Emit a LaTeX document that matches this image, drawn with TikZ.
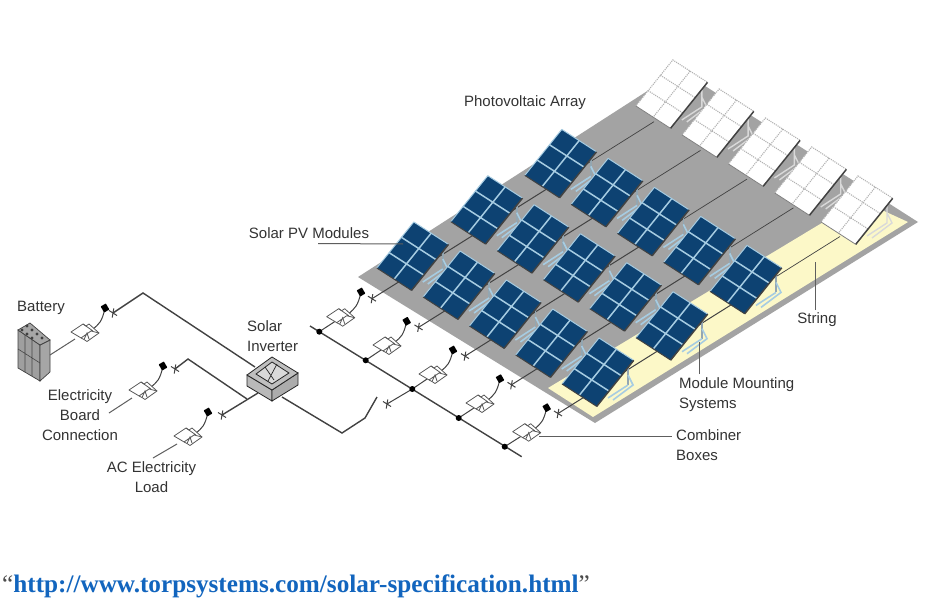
\documentclass[tikz,border=0pt]{standalone}
\usepackage{fontspec}
\setmainfont{Liberation Sans}
\newfontfamily\footfont{Liberation Serif}
\definecolor{ground}{HTML}{A3A3A3}
\definecolor{yard}{HTML}{FCF8C8}
\definecolor{panelblue}{HTML}{0D4272}
\definecolor{gridblue}{HTML}{A6CCE2}
\definecolor{wire}{HTML}{424242}
\definecolor{labelgray}{HTML}{333333}
\definecolor{linkblue}{HTML}{1265BE}
\tikzset{
  wireline/.style={draw=wire,line width=1.4pt},
  thinwire/.style={draw=wire,line width=1pt},
  farwire/.style={draw=wire,line width=.7pt},
  leader/.style={draw=wire!85,line width=1pt},
  lab/.style={text=labelgray,font=\fontsize{15}{20}\selectfont,inner sep=0pt,align=center},
  labl/.style={lab,align=left,anchor=west},
}
\newcommand{\bluepanel}[2]{%
 \begin{scope}[shift={(#1,#2)}]
  \draw[gray!50!gridblue,line width=1.6pt] (29,30)--(29,47);
  \draw[gridblue,line width=1.6pt] (29,47)--(9,60) (29,37)--(34,47)--(14,62);
  \fill[panelblue] (0,0)--(34.7,22.4)--(-2.3,68.4)--(-37,46)--cycle;
  \draw[gridblue,line width=1.5pt] (17.35,11.2)--(-19.65,57.2)
     (-12.33,15.33)--(22.37,37.73) (-24.67,30.67)--(10.03,53.07);
  \draw[gridblue,line width=1pt,line join=round] (-37,46)--(0,0)--(34.7,22.4);
  \draw[wire,line width=1.5pt] (34.7,22.4)--(-2.3,68.4);
  \draw[wire,line width=1pt] (-2.3,68.4)--(-37,46);
 \end{scope}}
\newcommand{\whitepanel}[2]{%
 \begin{scope}[shift={(#1,#2)}]
  \draw[gray!30,line width=1.4pt] (29,30)--(29,47)--(9,60) (29,37)--(34,47)--(14,62);
  \fill[white] (0,0)--(34.7,22.4)--(-2.3,68.4)--(-37,46)--cycle;
  \draw[gray!60,line width=1.1pt,densely dotted] (17.35,11.2)--(-19.65,57.2)
     (-12.33,15.33)--(22.37,37.73) (-24.67,30.67)--(10.03,53.07)
     (-37,46)--(0,0)--(34.7,22.4);
  \draw[wire,line width=1.5pt] (34.7,22.4)--(-2.3,68.4);
  \draw[gray,line width=.8pt] (-2.3,68.4)--(-37,46);
 \end{scope}}
\newcommand{\cbox}[2]{%
 \begin{scope}[shift={(#1,#2)}]
  \filldraw[fill=white,draw=gray!70!black,line width=.8pt,line join=round]
    (-14,-1)--(-2,-9)--(1,-7)--(4,-9)--(14,0)--(2,8.5)--(-1,6.5)--(-3,5.5)--cycle;
  \draw[gray!70!black,line width=.8pt] (-4,5)--(6,-2)--(14,0) (-2,-9)--(8,-2) (-1,6.5)--(2,0)--(4,6);
 \end{scope}}
\newcommand{\xmark}[2]{%
 \draw[wire,line width=1pt] (#1-4,#2-2.5)--(#1+4,#2+2.5) (#1+.8,#2-4.5)--(#1-.8,#2+4.5);}
\newcommand{\terminal}[2]{%
 \fill[black,rotate around={30:(#1,#2)},rounded corners=.5pt] (#1-3,#2-3.5)rectangle(#1+3,#2+3.5);}
\begin{document}
\begin{tikzpicture}[x=1pt,y=-1pt]
\useasboundingbox (0,0) rectangle (926,607);
\fill[white] (0,0) rectangle (926,607);
\fill[ground] (358,277)--(680,70)--(918,222)--(595,423)--cycle;
\fill[yard] (548,388)--(860,200)--(908,222)--(593,417)--cycle;
\foreach \s in {4,3,2,1,0}{
  \pgfmathsetmacro{\bx}{599-46.3*\s}
  \pgfmathsetmacro{\by}{338-29*\s}
  \pgfmathsetmacro{\mx}{558-46.5*\s}
  \pgfmathsetmacro{\my}{413.5-28.7*\s}
  \pgfmathsetmacro{\ex}{\mx+282}
  \pgfmathsetmacro{\ey}{\my-177}
  \pgfmathsetmacro{\kx}{\mx+188}
  \pgfmathsetmacro{\ky}{\my-118}
  \coordinate (plus\s) at (\mx,\my);
  \coordinate (knee\s) at (\kx,\ky);
  \coordinate (end\s) at (\ex,\ey);
  \draw[thinwire] (plus\s)--(knee\s);
  \draw[farwire] (knee\s)--(end\s);
  \pgfmathsetmacro{\wx}{\bx+3.5*74}
  \pgfmathsetmacro{\wy}{\by-3.5*46.3}
  \whitepanel{\wx}{\wy}
  \foreach \i in {2,1,0}{
    \pgfmathsetmacro{\px}{\bx+74*\i}
    \pgfmathsetmacro{\py}{\by-46.3*\i}
    \bluepanel{\px}{\py}
  }
  \xmark{\mx}{\my}
}
\coordinate (busA) at (310,326);
\coordinate (busB) at (521.7,456.7);
\draw[wireline] (busA)--(busB);
\foreach \n/\bx/\by/\tx/\ty/\jx/\jy in {
  0/526.7/432.7/546.7/407.7/504.7/446.7,
  1/480/404/500/378.7/458.7/418,
  3/387/346/406.7/321.3/365.7/360.3,
  4/340.7/317.7/361/292/319.3/331.7}{
  \coordinate (box\n) at (\bx,\by);
  \coordinate (term\n) at (\tx,\ty);
  \coordinate (junc\n) at (\jx,\jy);
  \draw[thinwire] (junc\n)--(box\n);
  \draw[thinwire] (term\n) .. controls (\tx-3,\ty+14) and (\tx-6,\ty+16) .. (\bx+8,\by-4);
  \cbox{\bx}{\by}
  \terminal{\tx}{\ty}
  \fill[black] (\jx,\jy) circle (3);
}
\coordinate (box2) at (433,375);
\coordinate (term2) at (453,350);
\coordinate (junc2) at (412.3,389);
\coordinate (swX) at (387,404);
\draw[thinwire] (junc2)--(box2);
\draw[thinwire] (junc2)--(swX);
\draw[thinwire] (term2) .. controls (450,364) and (447,366) .. (441,371);
\cbox{433}{375}
\terminal{453}{350}
\fill[black] (junc2) circle (3);
\xmark{387}{404}
\coordinate (invOut) at (282,397);
\coordinate (swB) at (342,433);
\coordinate (swC) at (365,418);
\coordinate (swD) at (377,397);
\draw[wireline] (invOut)--(swB)--(swC)--(swD);
\coordinate (batX) at (113,313);
\coordinate (batP) at (143,293);
\coordinate (invA) at (255,367);
\draw[wireline] (batX)--(batP)--(invA);
\coordinate (brdX) at (175,369);
\coordinate (brdP) at (188,359);
\coordinate (invB) at (247,399);
\draw[wireline] (brdX)--(brdP)--(invB);
\coordinate (acX) at (222,415);
\coordinate (invC) at (258,393);
\draw[wireline] (acX)--(invC);
\xmark{113}{313}\xmark{175}{369}\xmark{222}{415}
% inverter
\filldraw[fill=gray!55,draw=gray!30!black,line width=.8pt] (247,375)--(272,390)--(272,401)--(247,386)--cycle;
\filldraw[fill=gray!65,draw=gray!30!black,line width=.8pt] (298,373)--(272,390)--(272,401)--(298,385)--cycle;
\filldraw[fill=gray!50,draw=gray!30!black,line width=.8pt] (272,357)--(298,373)--(272,390)--(247,375)--cycle;
\filldraw[fill=gray!30,draw=gray!30!black,line width=.8pt] (272,362)--(289,373)--(272,384)--(256,374)--cycle;
\draw[gray!30!black,line width=.7pt] (265,367)--(274,380) (277,364)--(268,381);
% battery
\filldraw[fill=gray!75,draw=gray!50!black,line width=.7pt] (18,330)--(40,345)--(40,381)--(18,368)--cycle;
\filldraw[fill=gray!70,draw=gray!50!black,line width=.7pt] (40,345)--(50,340)--(50,372)--(40,381)--cycle;
\filldraw[fill=gray!70,draw=gray!50!black,line width=.7pt] (18,330)--(30,323)--(50,340)--(40,345)--cycle;
\draw[gray!55!black,line width=.6pt] (25,335)--(25,372) (32,340)--(32,376) (18,349)--(40,363);
\foreach \a/\b in {27/326,32/330,37/334,42/338,22/330,27/334,32/338}{\fill[black!75] (\a,\b) circle (1.7);}
% load boxes
\foreach \n/\bx/\by/\tx/\ty in {bat/85/333/105/308,brd/143/391/163/366,ac/188/437/208/412}{
  \coordinate (box\n) at (\bx,\by);
  \coordinate (term\n) at (\tx,\ty);
  \draw[thinwire] (term\n) .. controls (\tx-3,\ty+14) and (\tx-6,\ty+16) .. (\bx+8,\by-4);
  \cbox{\bx}{\by}
  \terminal{\tx}{\ty}
}
\coordinate (batIn) at (50,355);
\coordinate (brdIn) at (109,413);
\coordinate (acIn) at (153,458);
\draw[leader] (batIn)--(75,339);
\draw[leader] (brdIn)--(132,398);
\draw[leader] (acIn)--(177,444);
% labels
\node[lab] (lPV) at (525,102.5) {Photovoltaic Array};
\node[lab] (lMod) at (309,233.5) {Solar PV Modules};
\node[lab] (lBat) at (41,307.5) {Battery};
\node[labl] (lInv) at (247,336.5) {Solar\\Inverter};
\node[lab] (lBrd) at (80,415) {Electricity\\Board\\Connection};
\node[lab] (lAC) at (151.5,477) {AC Electricity\\Load};
\node[lab] (lStr) at (817,320) {String};
\node[labl] (lMnt) at (679,394.5) {Module Mounting\\Systems};
\node[labl] (lCmb) at (676,445) {Combiner\\Boxes};
\coordinate (pModEnd) at (403,244);
\draw[leader] (318,243.5)--(pModEnd);
\draw[leader] (815,310) -- (815,262);
\coordinate (mntEnd) at (699,342);
\draw[leader] (699,374)--(mntEnd);
\draw[leader] (539,436.5)--(672,436.5);
% footer
\node[anchor=base west,inner sep=0pt,font=\footfont\fontsize{25.2}{28}\selectfont] (foot) at (2,592)
  {\textcolor{black!70}{“}\textcolor{linkblue}{\textbf{http://www.torpsystems.com/solar-specification.html}}\textcolor{black!70}{”}};
\end{tikzpicture}
\end{document}
